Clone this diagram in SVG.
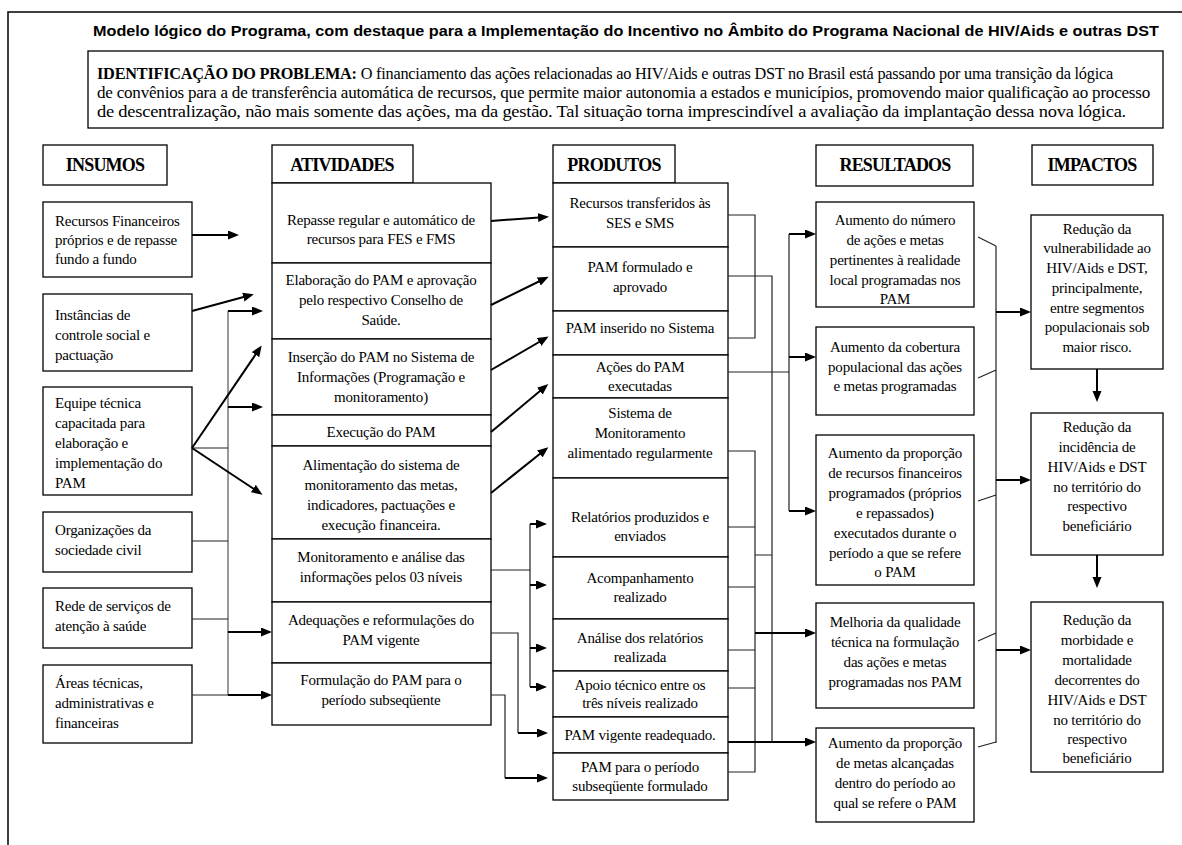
<svg xmlns="http://www.w3.org/2000/svg" width="1182" height="845" viewBox="0 0 1182 845">
<defs>
<style>
.box{fill:#fff;stroke:#000;stroke-width:1.3}
.t{font-family:"Liberation Serif","Times New Roman",serif;font-size:15px;fill:#000;letter-spacing:-0.2px}
.c{text-anchor:middle}
.h{font-family:"Liberation Serif","Times New Roman",serif;font-weight:bold;font-size:18px;text-anchor:middle;letter-spacing:-0.8px}
.ln{fill:none;stroke:#222;stroke-width:1.2}
.g{fill:none;stroke:#777;stroke-width:1.5}
.ar{fill:none;stroke:#000;stroke-width:2;marker-end:url(#ah)}
</style>
<marker id="ah" markerUnits="userSpaceOnUse" markerWidth="12" markerHeight="10" refX="8" refY="4.5" orient="auto">
<path d="M0,0 L11,4.5 L0,9 z" fill="#000"/>
</marker>
</defs>
<rect width="1182" height="845" fill="#fff"/>
<rect x="8" y="12" width="1200" height="900" fill="none" stroke="#000" stroke-width="1.5"/>
<text x="93" y="36" font-family="'Liberation Sans',Arial,sans-serif" font-weight="bold" font-size="14.5" textLength="1066" lengthAdjust="spacingAndGlyphs">Modelo lógico do Programa, com destaque para a Implementação do Incentivo no Âmbito do Programa Nacional de HIV/Aids e outras DST</text>
<g id="problema">
<rect class="box" x="88" y="51" width="1075" height="77"/>
<text class="t" x="97" y="79" style="font-size:16px" textLength="1016" lengthAdjust="spacingAndGlyphs"><tspan font-weight="bold">IDENTIFICAÇÃO DO PROBLEMA:</tspan> O financiamento das ações relacionadas ao HIV/Aids e outras DST no Brasil  está passando por uma transição da lógica</text>
<text class="t" x="97" y="98" style="font-size:16px" textLength="1053" lengthAdjust="spacingAndGlyphs">de convênios para a de transferência automática de recursos, que permite maior autonomia a estados e municípios, promovendo maior qualificação ao processo</text>
<text class="t" x="97" y="117" style="font-size:16px" textLength="1029" lengthAdjust="spacingAndGlyphs">de descentralização, não mais somente das ações, ma da gestão. Tal situação torna imprescindível a avaliação da implantação dessa nova lógica.</text>
</g>
<g id="headers">
<g id="h-insumos"><rect class="box" x="43" y="145" width="124" height="40"/><text class="h" x="105" y="171">INSUMOS</text></g>
<g id="h-atividades"><rect class="box" x="272" y="145" width="141" height="38"/><text class="h" x="342" y="171">ATIVIDADES</text></g>
<g id="h-produtos"><rect class="box" x="553" y="145" width="122" height="38"/><text class="h" x="614" y="171">PRODUTOS</text></g>
<g id="h-resultados"><rect class="box" x="816" y="145" width="157" height="41"/><text class="h" x="895" y="171">RESULTADOS</text></g>
<g id="h-impactos"><rect class="box" x="1032" y="145" width="121" height="40"/><text class="h" x="1092" y="171">IMPACTOS</text></g>
</g>
<g id="insumos">
<g id="i1"><rect class="box" x="43" y="202" width="149" height="75"/><text class="t" x="55" y="226">Recursos Financeiros</text><text class="t" x="55" y="245">próprios e de repasse</text><text class="t" x="55" y="264">fundo a fundo</text></g>
<g id="i2"><rect class="box" x="43" y="294" width="149" height="77"/><text class="t" x="55" y="320">Instâncias de</text><text class="t" x="55" y="340">controle social e</text><text class="t" x="55" y="360">pactuação</text></g>
<g id="i3"><rect class="box" x="43" y="387" width="149" height="108"/><text class="t" x="55" y="408">Equipe técnica</text><text class="t" x="55" y="428">capacitada para</text><text class="t" x="55" y="448">elaboração e</text><text class="t" x="55" y="468">implementação do</text><text class="t" x="55" y="488">PAM</text></g>
<g id="i4"><rect class="box" x="43" y="512" width="149" height="60"/><text class="t" x="55" y="535">Organizações da</text><text class="t" x="55" y="555">sociedade civil</text></g>
<g id="i5"><rect class="box" x="43" y="588" width="149" height="60"/><text class="t" x="55" y="611">Rede de serviços de</text><text class="t" x="55" y="631">atenção à saúde</text></g>
<g id="i6"><rect class="box" x="43" y="665" width="149" height="78"/><text class="t" x="55" y="688">Áreas técnicas,</text><text class="t" x="55" y="708">administrativas e</text><text class="t" x="55" y="728">financeiras</text></g>
</g>
<g id="atividades">
<g id="a1"><rect class="box" x="272" y="183" width="219" height="80"/><text class="t c" x="381" y="225">Repasse regular e automático de</text><text class="t c" x="381" y="244">recursos para FES e FMS</text></g>
<g id="a2"><rect class="box" x="272" y="263" width="219" height="76"/><text class="t c" x="381" y="285">Elaboração do PAM e aprovação</text><text class="t c" x="381" y="305">pelo respectivo Conselho de</text><text class="t c" x="381" y="325">Saúde.</text></g>
<g id="a3"><rect class="box" x="272" y="339" width="219" height="76"/><text class="t c" x="381" y="362">Inserção do PAM no Sistema de</text><text class="t c" x="381" y="382">Informações (Programação e</text><text class="t c" x="381" y="402">monitoramento)</text></g>
<g id="a4"><rect class="box" x="272" y="415" width="219" height="31"/><text class="t c" x="381" y="437">Execução do PAM</text></g>
<g id="a5"><rect class="box" x="272" y="446" width="219" height="93"/><text class="t c" x="381" y="470">Alimentação do sistema de</text><text class="t c" x="381" y="490">monitoramento das metas,</text><text class="t c" x="381" y="510">indicadores, pactuações e</text><text class="t c" x="381" y="530">execução financeira.</text></g>
<g id="a6"><rect class="box" x="272" y="539" width="219" height="63"/><text class="t c" x="381" y="562">Monitoramento e análise das</text><text class="t c" x="381" y="582">informações pelos 03 níveis</text></g>
<g id="a7"><rect class="box" x="272" y="602" width="219" height="61"/><text class="t c" x="381" y="625">Adequações e reformulações do</text><text class="t c" x="381" y="645">PAM vigente</text></g>
<g id="a8"><rect class="box" x="272" y="663" width="219" height="62"/><text class="t c" x="381" y="685">Formulação do PAM para o</text><text class="t c" x="381" y="705">período subseqüente</text></g>
</g>
<g id="produtos">
<g id="p1"><rect class="box" x="553" y="183" width="175" height="64"/><text class="t c" x="640" y="208">Recursos transferidos às</text><text class="t c" x="640" y="228">SES e SMS</text></g>
<g id="p2"><rect class="box" x="553" y="247" width="175" height="64"/><text class="t c" x="640" y="272">PAM formulado e</text><text class="t c" x="640" y="292">aprovado</text></g>
<g id="p3"><rect class="box" x="553" y="311" width="175" height="44"/><text class="t c" x="640" y="333">PAM inserido no Sistema</text></g>
<g id="p4"><rect class="box" x="553" y="355" width="175" height="43"/><text class="t c" x="640" y="372">Ações do PAM</text><text class="t c" x="640" y="391">executadas</text></g>
<g id="p5"><rect class="box" x="553" y="398" width="175" height="80"/><text class="t c" x="640" y="418">Sistema de</text><text class="t c" x="640" y="438">Monitoramento</text><text class="t c" x="640" y="458">alimentado regularmente</text></g>
<g id="p6"><rect class="box" x="553" y="478" width="175" height="79"/><text class="t c" x="640" y="522">Relatórios produzidos e</text><text class="t c" x="640" y="541">enviados</text></g>
<g id="p7"><rect class="box" x="553" y="557" width="175" height="62"/><text class="t c" x="640" y="583">Acompanhamento</text><text class="t c" x="640" y="602">realizado</text></g>
<g id="p8"><rect class="box" x="553" y="619" width="175" height="52"/><text class="t c" x="640" y="643">Análise dos relatórios</text><text class="t c" x="640" y="662">realizada</text></g>
<g id="p9"><rect class="box" x="553" y="671" width="175" height="46"/><text class="t c" x="640" y="690">Apoio técnico entre os</text><text class="t c" x="640" y="708">três níveis realizado</text></g>
<g id="p10"><rect class="box" x="553" y="717" width="175" height="36"/><text class="t c" x="640" y="740">PAM vigente readequado.</text></g>
<g id="p11"><rect class="box" x="553" y="753" width="175" height="47"/><text class="t c" x="640" y="772">PAM para o período</text><text class="t c" x="640" y="791">subseqüente formulado</text></g>
</g>
<g id="resultados">
<g id="r1"><rect class="box" x="816" y="202" width="158" height="105"/><text class="t c" x="895" y="225">Aumento do número</text><text class="t c" x="895" y="245">de ações e metas</text><text class="t c" x="895" y="265">pertinentes à realidade</text><text class="t c" x="895" y="285">local programadas nos</text><text class="t c" x="895" y="304">PAM</text></g>
<g id="r2"><rect class="box" x="816" y="327" width="158" height="88"/><text class="t c" x="895" y="352">Aumento da cobertura</text><text class="t c" x="895" y="372">populacional das ações</text><text class="t c" x="895" y="391">e metas programadas</text></g>
<g id="r3"><rect class="box" x="816" y="435" width="158" height="150"/><text class="t c" x="895" y="458">Aumento da proporção</text><text class="t c" x="895" y="478">de recursos financeiros</text><text class="t c" x="895" y="498">programados (próprios</text><text class="t c" x="895" y="518">e repassados)</text><text class="t c" x="895" y="538">executados durante o</text><text class="t c" x="895" y="558">período a que se refere</text><text class="t c" x="895" y="577">o PAM</text></g>
<g id="r4"><rect class="box" x="816" y="603" width="158" height="105"/><text class="t c" x="895" y="627">Melhoria da qualidade</text><text class="t c" x="895" y="647">técnica na formulação</text><text class="t c" x="895" y="667">das ações e metas</text><text class="t c" x="895" y="687">programadas nos PAM</text></g>
<g id="r5"><rect class="box" x="816" y="728" width="158" height="94"/><text class="t c" x="895" y="748">Aumento da proporção</text><text class="t c" x="895" y="768">de metas alcançadas</text><text class="t c" x="895" y="788">dentro do período ao</text><text class="t c" x="895" y="808">qual se refere o PAM</text></g>
</g>
<g id="impactos">
<g id="m1"><rect class="box" x="1031" y="215" width="132" height="154"/><text class="t c" x="1097" y="234">Redução da</text><text class="t c" x="1097" y="253">vulnerabilidade ao</text><text class="t c" x="1097" y="273">HIV/Aids e DST,</text><text class="t c" x="1097" y="293">principalmente,</text><text class="t c" x="1097" y="313">entre segmentos</text><text class="t c" x="1097" y="332">populacionais sob</text><text class="t c" x="1097" y="352">maior risco.</text></g>
<g id="m2"><rect class="box" x="1031" y="413" width="132" height="142"/><text class="t c" x="1097" y="432">Redução da</text><text class="t c" x="1097" y="452">incidência de</text><text class="t c" x="1097" y="472">HIV/Aids e DST</text><text class="t c" x="1097" y="492">no território do</text><text class="t c" x="1097" y="511">respectivo</text><text class="t c" x="1097" y="531">beneficiário</text></g>
<g id="m3"><rect class="box" x="1031" y="602" width="132" height="170"/><text class="t c" x="1097" y="625">Redução da</text><text class="t c" x="1097" y="645">morbidade e</text><text class="t c" x="1097" y="665">mortalidade</text><text class="t c" x="1097" y="685">decorrentes do</text><text class="t c" x="1097" y="705">HIV/Aids e DST</text><text class="t c" x="1097" y="725">no território do</text><text class="t c" x="1097" y="744">respectivo</text><text class="t c" x="1097" y="763">beneficiário</text></g>
</g>
<g id="connectors">
<path class="g" d="M228,311 V695"/>
<path class="ln" d="M192,448 H228 M192,541 H228 M192,619 H228 M192,695 H228"/>
<path class="ar" d="M192,235 L236,235"/>
<path class="ar" d="M192,311 L251,295"/>
<path class="ar" d="M228,311 L260,311"/>
<path class="ar" d="M192,448 L260,348"/>
<path class="ar" d="M228,407 L260,407"/>
<path class="ar" d="M192,448 L260,493"/>
<path class="ar" d="M228,632 L269,632"/>
<path class="ar" d="M228,695 L269,695"/>
<path class="ar" d="M491,221 L546,217"/>
<path class="ar" d="M491,305 L546,278"/>
<path class="ar" d="M491,370 L546,338"/>
<path class="ar" d="M491,432 L546,386"/>
<path class="ar" d="M491,493 L546,449"/>
<path class="ln" d="M491,570 H530 M530,524 V687"/>
<path class="ar" d="M530,524 H544"/>
<path class="ar" d="M530,585 H544"/>
<path class="ar" d="M530,648 H544"/>
<path class="ar" d="M530,687 H544"/>
<path class="ln" d="M491,633 H518 V733"/>
<path class="ar" d="M518,733 H545"/>
<path class="ln" d="M491,695 H505 V778"/>
<path class="ar" d="M505,778 H545"/>
<path class="ln" d="M728,215 H755 V338 H728"/>
<path class="ln" d="M728,276 H772 V742"/>
<path class="ln" d="M728,372 H789 M789,234 V511"/>
<path class="ar" d="M789,234 H813"/>
<path class="ar" d="M789,357 H813"/>
<path class="ar" d="M789,511 H813"/>
<path class="ln" d="M728,451 H755 V772 H728 M728,527 H755 M728,587 H755 M728,650 H755 M728,688 H755 M755,555 H772"/>
<path class="ar" d="M755,633 H813"/>
<path class="ar" d="M728,742 H813"/>
<path class="ln" d="M996,246 V743 M978,237 L996,246 M978,378 L996,370 M978,501 L996,495 M978,641 L996,633 M978,747 L996,742"/>
<path class="ar" d="M996,312 H1028"/>
<path class="ar" d="M996,480 H1028"/>
<path class="ar" d="M996,650 H1028"/>
<path class="ar" d="M1097,369 V399"/>
<path class="ar" d="M1097,555 V585"/>
</g>
</svg>
